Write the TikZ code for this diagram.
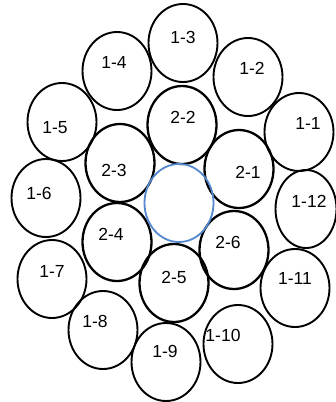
\documentclass[tikz,border=0pt]{standalone}
\usepackage{fontspec}
\setmainfont{Liberation Sans}
\usetikzlibrary{shapes.geometric}
\definecolor{coreblue}{RGB}{84,136,206}
\tikzset{
  wire/.style={draw=black, ellipse, line width=1.9pt, minimum width=69pt, minimum height=78pt, inner sep=0pt},
  inwire/.style={wire, line width=2.3pt},
  core/.style={wire, draw=coreblue, line width=1.8pt},
  lab/.style={font=\fontsize{17.5}{17.5}\selectfont, inner sep=0pt}
}
\begin{document}
\begin{tikzpicture}[x=1pt,y=-1pt]
\useasboundingbox (0,0) rectangle (336,402);
% outer ring
\node[wire] (c11) at (299,132) {};
\node[wire] (c12) at (248,77) {};
\node[wire] (c13) at (183,43) {};
\node[wire] (c14) at (117,71) {};
\node[wire] (c15) at (62,122) {};
\node[wire] (c16) at (46,198) {};
\node[wire] (c17) at (52,279) {};
\node[wire] (c18) at (103,330) {};
\node[wire] (c19) at (166,362) {};
\node[wire] (c110) at (238,344) {};
\node[wire] (c111) at (295,288) {};
\node[wire, minimum width=61pt] (c112) at (306,209) {};
% inner ring
\node[inwire] (c21) at (239,169) {};
\node[inwire] (c22) at (182,125) {};
\node[inwire] (c23) at (120,163) {};
\node[inwire] (c24) at (117,242) {};
\node[inwire] (c25) at (174,283) {};
\node[inwire] (c26) at (234,250) {};
% core
\node[core] (core) at (179,203) {};
% labels
\node[lab] (l11) at (308,123) {1-1};
\node[lab] (l12) at (252,68) {1-2};
\node[lab] (l13) at (183,37) {1-3};
\node[lab] (l14) at (114,62) {1-4};
\node[lab] (l15) at (55,128) {1-5};
\node[lab] (l16) at (39,193) {1-6};
\node[lab] (l17) at (52,271) {1-7};
\node[lab] (l18) at (95,321) {1-8};
\node[lab] (l19) at (165,351) {1-9};
\node[lab] (l110) at (223,335) {1-10};
\node[lab] (l111) at (295,278) {1-11};
\node[lab] (l112) at (309,201) {1-12};
\node[lab] (l21) at (248,172) {2-1};
\node[lab] (l22) at (183,117) {2-2};
\node[lab] (l23) at (114,170) {2-3};
\node[lab] (l24) at (111,234) {2-4};
\node[lab] (l25) at (174,277) {2-5};
\node[lab] (l26) at (228,242) {2-6};
\end{tikzpicture}
\end{document}
